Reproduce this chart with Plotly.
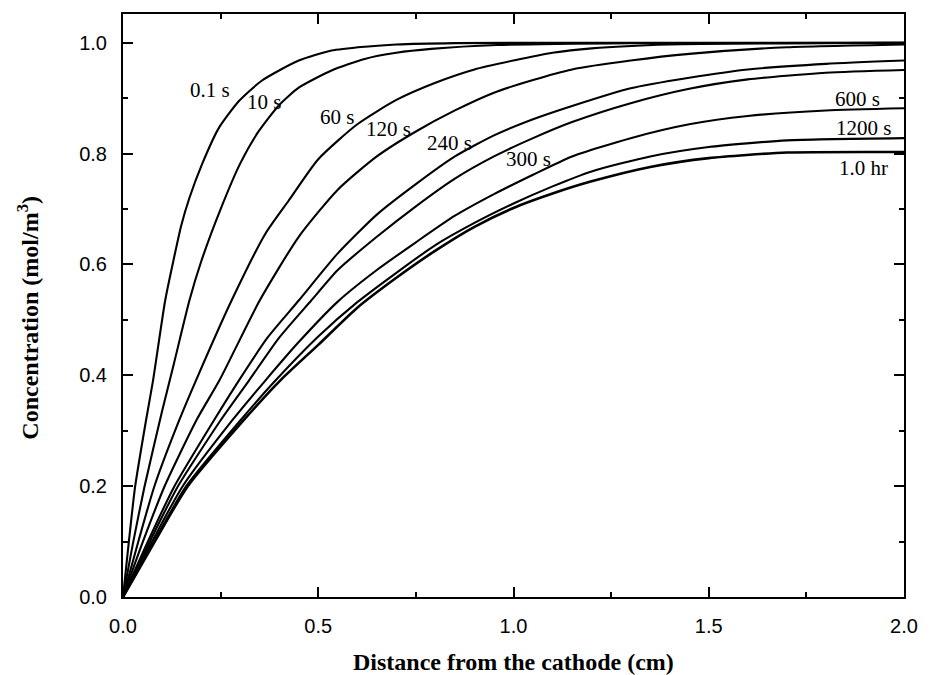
import plotly.graph_objects as go

# ---- data ----
labels = ["0.1 s", "10 s", "60 s", "120 s", "240 s", "300 s", "600 s", "1200 s", "1.0 hr"]

x_01s = [0, 0.015, 0.031, 0.059, 0.077, 0.108, 0.130, 0.149, 0.170, 0.203, 0.246, 0.297, 0.356, 0.45, 0.534, 0.62, 0.70, 0.85, 1.2, 2.0]
y_01s = [0, 0.100, 0.199, 0.319, 0.391, 0.535, 0.610, 0.670, 0.720, 0.782, 0.847, 0.895, 0.932, 0.968, 0.986, 0.993, 0.997, 0.9995, 1.0, 1.0]

x_10s = [0, 0.025, 0.055, 0.100, 0.130, 0.170, 0.200, 0.250, 0.300, 0.348, 0.399, 0.45, 0.534, 0.619, 0.70, 0.789, 0.958, 1.3, 2.0]
y_10s = [0, 0.095, 0.199, 0.335, 0.420, 0.535, 0.605, 0.700, 0.782, 0.841, 0.887, 0.919, 0.950, 0.971, 0.982, 0.989, 0.996, 0.9995, 1.0]

x_60s = [0, 0.040, 0.080, 0.144, 0.187, 0.278, 0.365, 0.424, 0.5, 0.6, 0.7, 0.8, 0.9, 1.0, 1.1, 1.2, 1.4, 1.7, 2.0]
y_60s = [0, 0.102, 0.199, 0.319, 0.391, 0.535, 0.656, 0.715, 0.790, 0.853, 0.897, 0.928, 0.952, 0.968, 0.982, 0.990, 0.997, 0.999, 1.0]

x_120s = [0, 0.050, 0.106, 0.188, 0.247, 0.35, 0.45, 0.55, 0.65, 0.75, 0.85, 0.95, 1.05, 1.15, 1.3, 1.45, 1.7, 2.0]
y_120s = [0, 0.098, 0.199, 0.319, 0.391, 0.535, 0.650, 0.735, 0.795, 0.840, 0.878, 0.910, 0.933, 0.952, 0.968, 0.980, 0.992, 0.997]

x_240s = [0, 0.065, 0.131, 0.233, 0.297, 0.37, 0.45, 0.55, 0.65, 0.75, 0.85, 0.95, 1.05, 1.15, 1.3, 1.45, 1.6, 1.8, 2.0]
y_240s = [0, 0.102, 0.199, 0.319, 0.391, 0.468, 0.535, 0.620, 0.690, 0.745, 0.795, 0.833, 0.862, 0.886, 0.918, 0.937, 0.952, 0.962, 0.968]

x_300s = [0, 0.070, 0.140, 0.250, 0.323, 0.40, 0.482, 0.55, 0.65, 0.75, 0.85, 0.95, 1.05, 1.15, 1.3, 1.45, 1.6, 1.8, 2.0]
y_300s = [0, 0.102, 0.199, 0.319, 0.391, 0.468, 0.535, 0.590, 0.650, 0.705, 0.755, 0.795, 0.828, 0.857, 0.891, 0.917, 0.934, 0.946, 0.951]

x_600s = [0, 0.075, 0.152, 0.280, 0.365, 0.45, 0.55, 0.65, 0.75, 0.85, 0.95, 1.05, 1.15, 1.3, 1.45, 1.6, 1.8, 2.0]
y_600s = [0, 0.101, 0.199, 0.319, 0.391, 0.460, 0.533, 0.590, 0.640, 0.688, 0.727, 0.762, 0.795, 0.828, 0.853, 0.868, 0.878, 0.882]

x_1200s = [0, 0.080, 0.161, 0.301, 0.391, 0.5, 0.6, 0.7, 0.8, 0.9, 1.0, 1.1, 1.2, 1.35, 1.5, 1.7, 2.0]
y_1200s = [0, 0.101, 0.199, 0.319, 0.391, 0.470, 0.532, 0.585, 0.635, 0.675, 0.710, 0.741, 0.768, 0.795, 0.812, 0.824, 0.828]

x_1hr = [0, 0.082, 0.165, 0.309, 0.403, 0.5, 0.6, 0.7, 0.8, 0.9, 1.0, 1.1, 1.2, 1.35, 1.5, 1.7, 2.0]
y_1hr = [0, 0.101, 0.199, 0.319, 0.391, 0.455, 0.522, 0.576, 0.625, 0.668, 0.702, 0.728, 0.750, 0.776, 0.792, 0.802, 0.803]

series_x = [x_01s, x_10s, x_60s, x_120s, x_240s, x_300s, x_600s, x_1200s, x_1hr]
series_y = [y_01s, y_10s, y_60s, y_120s, y_240s, y_300s, y_600s, y_1200s, y_1hr]

# label anchor positions (data units)
label_x = [0.224, 0.361, 0.547, 0.681, 0.837, 1.039, 1.881, 1.896, 1.896]
label_y = [0.914, 0.894, 0.867, 0.845, 0.820, 0.791, 0.899, 0.846, 0.775]

x_ticks = [0.0, 0.5, 1.0, 1.5, 2.0]
y_ticks = [0.0, 0.2, 0.4, 0.6, 0.8, 1.0]

fig = go.Figure()
for i, name in enumerate(labels):
    fig.add_trace(go.Scatter(
        x=series_x[i], y=series_y[i], mode="lines", name=name,
        line=dict(color="black", width=2.6 if name == "1.0 hr" else 2.1,
                  shape="spline", smoothing=0.6),
        showlegend=False,
    ))

serif = "Liberation Serif, Times New Roman, serif"
sans = "Liberation Sans, Arial, sans-serif"

for name, lx, ly in zip(labels, label_x, label_y):
    fig.add_annotation(x=lx, y=ly, xref="x", yref="y", text=name, showarrow=False,
                       font=dict(family=serif, size=21, color="black"),
                       xanchor="center", yanchor="middle")

fig.add_annotation(x=0.5, y=-0.111, xref="paper", yref="paper",
                   text="<b>Distance from the cathode (cm)</b>", showarrow=False,
                   font=dict(family=serif, size=24, color="black"),
                   xanchor="center", yanchor="middle")
fig.add_annotation(x=-0.121, y=0.48, xref="paper", yref="paper",
                   text="<b>Concentration (mol/m<sup>3</sup>)</b>", showarrow=False,
                   textangle=-90,
                   font=dict(family=serif, size=24, color="black"),
                   xanchor="center", yanchor="middle")

axis_common = dict(
    showline=True, linecolor="black", linewidth=2, mirror="ticks",
    ticks="inside", ticklen=10, tickwidth=2, tickcolor="black",
    showgrid=False, zeroline=False,
    tickfont=dict(family=sans, size=20, color="black"),
)

fig.update_xaxes(range=[0, 2.0], tickvals=x_ticks,
                 ticktext=[f"{v:.1f}" for v in x_ticks],
                 minor=dict(ticks="inside", ticklen=5, tickwidth=2, tickcolor="black",
                            dtick=0.25, tick0=0, showgrid=False),
                 ticklabelstandoff=10,
                 **axis_common)
fig.update_yaxes(range=[0, 1.052], tickvals=y_ticks,
                 ticktext=[f"{v:.1f}" for v in y_ticks],
                 minor=dict(ticks="inside", ticklen=5, tickwidth=2, tickcolor="black",
                            dtick=0.1, tick0=0, showgrid=False),
                 ticklabelstandoff=10,
                 **axis_common)

fig.update_layout(
    width=930, height=675, autosize=False,
    margin=dict(l=123, r=20, t=13, b=78),
    paper_bgcolor="white", plot_bgcolor="white",
)

fig.write_html("out.html", config={"responsive": False})
